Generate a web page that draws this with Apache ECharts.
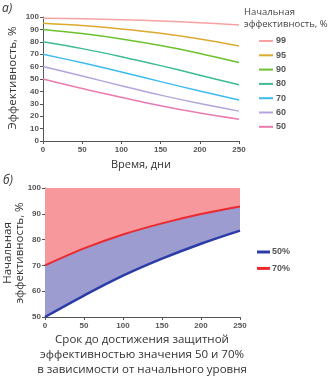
<!DOCTYPE html>
<html><head><meta charset="utf-8">
<script src="https://cdn.jsdelivr.net/npm/echarts@6/dist/echarts.min.js"></script>
<style>html,body{margin:0;padding:0;background:#fff}#c{width:331px;height:384px}</style>
</head><body><div id="c"></div>
<script>
// Top chart: efficacy over time by initial efficacy
const days = [0, 50, 100, 150, 200, 250];
const names = ['99', '95', '90', '80', '70', '60', '50'];
const eff99 = [99, 98.5, 97.8, 96.8, 95.4, 93.5];
const eff95 = [95, 93.1, 90.4, 86.9, 82.3, 76.7];
const eff90 = [90, 86.6, 82.3, 77.0, 70.6, 63.3];
const eff80 = [80, 74.5, 68.0, 60.8, 53.1, 45.3];
const eff70 = [70, 63.1, 55.7, 47.9, 40.3, 33.1];
const eff60 = [60, 52.4, 44.6, 37.0, 30.2, 24.1];
const eff50 = [50, 42.3, 35.2, 28.4, 22.5, 17.5];
const topSeries = [eff99, eff95, eff90, eff80, eff70, eff60, eff50];
const topColors = ['#f7a3a3', '#dcaa2e', '#6cc22e', '#3dbd8e', '#3cbcf0', '#b4a4dc', '#ea7ab0'];

// Bottom chart: initial efficacy needed to keep 50% / 70%
const days2 = [0, 50, 100, 150, 200, 250];
const need50 = [50, 58.3, 66.0, 72.6, 78.4, 83.5];
const need70 = [70, 76.6, 82.0, 86.3, 89.9, 92.8];

const pairs = (xs, ys) => xs.map((x, i) => [x, ys[i]]);

const tickLabel = {fontSize: 8, color: '#555', fontWeight: 'bold', fontFamily: 'Liberation Sans'};
const axisLine = {show: true, lineStyle: {color: '#555', width: 1}};
const axisTick = {show: true, inside: false, length: 3, lineStyle: {color: '#555'}};
const txt = {fill: '#333', fontFamily: 'Open Sans'};
const sm = {smooth: 0.35, symbol: 'none'};

const series = [];
names.forEach((n, i) => {
  series.push(Object.assign({
    name: n, type: 'line', xAxisIndex: 0, yAxisIndex: 0,
    data: pairs(days, topSeries[i]),
    lineStyle: {color: topColors[i], width: 1.5}, itemStyle: {color: topColors[i]}
  }, sm));
});
// bottom areas
series.push(Object.assign({
  type: 'line', xAxisIndex: 1, yAxisIndex: 1,
  data: pairs(days2, need70), lineStyle: {width: 0}, areaStyle: {origin: 'end', color: '#f6989c', opacity: 1}, z: 1
}, sm));
series.push(Object.assign({
  type: 'line', xAxisIndex: 1, yAxisIndex: 1,
  data: pairs(days2, need70), lineStyle: {width: 0}, areaStyle: {origin: 'start', color: '#9c9cd0', opacity: 1}, z: 2
}, sm));
series.push(Object.assign({
  type: 'line', xAxisIndex: 1, yAxisIndex: 1,
  data: pairs(days2, need50), lineStyle: {width: 0}, areaStyle: {origin: 'start', color: '#ffffff', opacity: 1}, z: 3
}, sm));
series.push(Object.assign({
  name: '50%', type: 'line', xAxisIndex: 1, yAxisIndex: 1,
  data: pairs(days2, need50), lineStyle: {color: '#2c3ca6', width: 2.5}, itemStyle: {color: '#2c3ca6'}, z: 5
}, sm));
series.push(Object.assign({
  name: '70%', type: 'line', xAxisIndex: 1, yAxisIndex: 1,
  data: pairs(days2, need70), lineStyle: {color: '#ec2a2e', width: 2}, itemStyle: {color: '#ec2a2e'}, z: 5
}, sm));

const option = {
  animation: false,
  backgroundColor: '#fff',
  grid: [
    {left: 43, top: 17, width: 196, height: 124, outerBoundsMode: 'none'},
    {left: 45, top: 188, width: 195, height: 129, outerBoundsMode: 'none'}
  ],
  xAxis: [
    {type: 'value', gridIndex: 0, min: 0, max: 250, interval: 50, splitLine: {show: false},
     axisLine, axisTick, axisLabel: Object.assign({margin: 5}, tickLabel)},
    {type: 'value', gridIndex: 1, min: 0, max: 250, interval: 50, splitLine: {show: false},
     axisLine, axisTick, axisLabel: Object.assign({margin: 5}, tickLabel)}
  ],
  yAxis: [
    {type: 'value', gridIndex: 0, min: 0, max: 100, interval: 10, splitLine: {show: false},
     axisLine, axisTick, axisLabel: Object.assign({margin: 4}, tickLabel)},
    {type: 'value', gridIndex: 1, min: 50, max: 100, interval: 10, splitLine: {show: false},
     axisLine, axisTick, axisLabel: Object.assign({margin: 4}, tickLabel)}
  ],
  legend: [
    {data: names, orient: 'vertical', left: 254, top: 31, icon: 'rect', itemWidth: 14, itemHeight: 2,
     itemGap: 4.3, textStyle: {fontSize: 9, lineHeight: 10, color: '#555', fontWeight: 'bold', fontFamily: 'Liberation Sans', padding: [0, 0, 0, -2]}},
    {data: ['50%', '70%'], orient: 'vertical', left: 252, top: 242, icon: 'rect', itemWidth: 13, itemHeight: 3,
     itemGap: 6.4, textStyle: {fontSize: 9, lineHeight: 10, color: '#555', fontWeight: 'bold', fontFamily: 'Liberation Sans', padding: [0, 0, 0, -3]}}
  ],
  graphic: [
    {type: 'text', left: 2, top: 3, style: Object.assign({text: 'а)', fontSize: 12, fontStyle: 'italic'}, txt)},
    {type: 'text', left: 3, top: 175, style: Object.assign({text: 'б)', fontSize: 12, fontStyle: 'italic'}, txt)},
    {type: 'text', left: 244, top: 6, style: {text: 'Начальная\nэффективность, %', fontSize: 9.5, lineHeight: 12.5, fill: '#444', fontFamily: 'Open Sans'}},
    {type: 'text', x: 13, y: 78, rotation: Math.PI / 2, style: Object.assign({text: 'Эффективность, %',
      fontSize: 11.5, align: 'center', verticalAlign: 'middle'}, txt)},
    {type: 'text', x: 141, y: 165, style: Object.assign({text: 'Время, дни',
      fontSize: 11, align: 'center', verticalAlign: 'middle'}, txt)},
    {type: 'text', x: 14, y: 253, rotation: Math.PI / 2, style: Object.assign({text: 'Начальная\nэффективность, %',
      fontSize: 11.5, lineHeight: 12, align: 'center', verticalAlign: 'middle'}, txt)},
    {type: 'text', x: 142, y: 332, style: Object.assign({text: 'Срок до достижения защитной\nэффективностью значения 50 и 70%\nв зависимости от начального уровня',
      fontSize: 11.5, lineHeight: 15, align: 'center', verticalAlign: 'top'}, txt)}
  ],
  series
};
const chart = echarts.init(document.getElementById('c'), null, {renderer: 'canvas'});
chart.setOption(option);
</script></body></html>
